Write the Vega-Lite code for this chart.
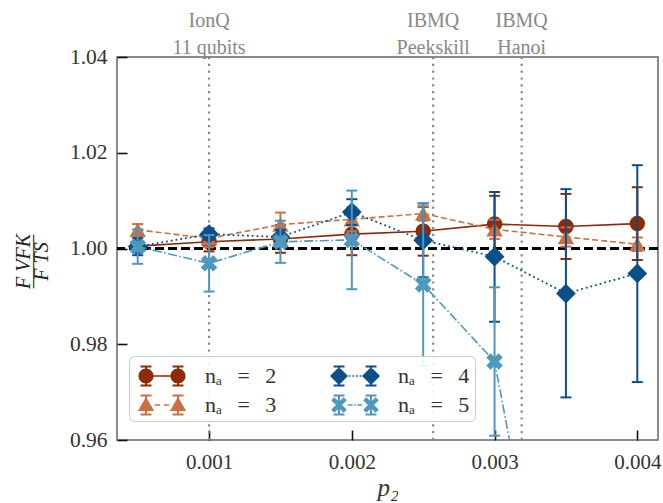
{
  "$schema": "https://vega.github.io/schema/vega-lite/v6.json",
  "width": 541,
  "height": 383,
  "autosize": "none",
  "padding": {"left": 117, "top": 57, "right": 5, "bottom": 63},
  "background": "white",
  "config": {
    "font": "Liberation Serif, DejaVu Serif, serif",
    "view": {"stroke": "#666666", "strokeWidth": 1.5}
  },
  "data": {
    "values": [
      {"p2": 0.0005, "na": "2", "v": 1.0005, "lo": 0.9997, "hi": 1.0013},
      {"p2": 0.001, "na": "2", "v": 1.0014, "lo": 0.9994, "hi": 1.0034},
      {"p2": 0.0015, "na": "2", "v": 1.002, "lo": 0.9991, "hi": 1.0049},
      {"p2": 0.002, "na": "2", "v": 1.003, "lo": 0.9986, "hi": 1.0074},
      {"p2": 0.0025, "na": "2", "v": 1.0036, "lo": 0.9985, "hi": 1.0087},
      {"p2": 0.003, "na": "2", "v": 1.0051, "lo": 0.9992, "hi": 1.011},
      {"p2": 0.0035, "na": "2", "v": 1.0046, "lo": 0.9978, "hi": 1.0114},
      {"p2": 0.004, "na": "2", "v": 1.0052, "lo": 0.9976, "hi": 1.0128},

      {"p2": 0.0005, "na": "3", "v": 1.0039, "lo": 1.0027, "hi": 1.0051},
      {"p2": 0.001, "na": "3", "v": 1.0021, "lo": 1.0003, "hi": 1.0039},
      {"p2": 0.0015, "na": "3", "v": 1.005, "lo": 1.0025, "hi": 1.0075},
      {"p2": 0.002, "na": "3", "v": 1.0061, "lo": 1.0036, "hi": 1.0086},
      {"p2": 0.0025, "na": "3", "v": 1.0073, "lo": 1.0058, "hi": 1.0088},
      {"p2": 0.003, "na": "3", "v": 1.004, "lo": 1.002, "hi": 1.006},
      {"p2": 0.0035, "na": "3", "v": 1.0024, "lo": 1.0004, "hi": 1.0044},
      {"p2": 0.004, "na": "3", "v": 1.0009, "lo": 0.9995, "hi": 1.0023},

      {"p2": 0.0005, "na": "4", "v": 1.0004, "lo": 0.9986, "hi": 1.0022},
      {"p2": 0.001, "na": "4", "v": 1.003, "lo": 1.0018, "hi": 1.0042},
      {"p2": 0.0015, "na": "4", "v": 1.0024, "lo": 1.0009, "hi": 1.0039},
      {"p2": 0.002, "na": "4", "v": 1.0076, "lo": 1.0049, "hi": 1.0103},
      {"p2": 0.0025, "na": "4", "v": 1.0017, "lo": 0.994, "hi": 1.0094},
      {"p2": 0.003, "na": "4", "v": 0.9983, "lo": 0.9847, "hi": 1.0118},
      {"p2": 0.0035, "na": "4", "v": 0.9906, "lo": 0.9689, "hi": 1.0124},
      {"p2": 0.004, "na": "4", "v": 0.9948, "lo": 0.9721, "hi": 1.0174},

      {"p2": 0.0005, "na": "5", "v": 1.0004, "lo": 0.9968, "hi": 1.004},
      {"p2": 0.001, "na": "5", "v": 0.9969, "lo": 0.991, "hi": 1.0028},
      {"p2": 0.0015, "na": "5", "v": 1.0014, "lo": 0.997, "hi": 1.0058},
      {"p2": 0.002, "na": "5", "v": 1.0018, "lo": 0.9915, "hi": 1.0121},
      {"p2": 0.0025, "na": "5", "v": 0.9925, "lo": 0.9755, "hi": 1.0095},
      {"p2": 0.003, "na": "5", "v": 0.9764, "lo": 0.9609, "hi": 0.9919},
      {"p2": 0.0035, "na": "5", "v": 0.898, "lo": 0.898, "hi": 0.898}
    ]
  },
  "layer": [
    {
      "data": {"values": [
        {"p2": 0.001, "device": "IonQ\n11 qubits", "ty": 1.0462},
        {"p2": 0.00257, "device": "IBMQ\nPeekskill", "ty": 1.0462},
        {"p2": 0.00319, "device": "IBMQ\nHanoi", "ty": 1.0462}
      ]},
      "layer": [
        {
          "mark": {"type": "rule", "color": "#888888", "strokeWidth": 2.2, "strokeDash": [2.2, 4.6]},
          "encoding": {
            "x": {
              "field": "p2", "type": "quantitative",
              "scale": {"domain": [0.000355, 0.004145], "nice": false, "zero": false},
              "axis": {
                "values": [0.001, 0.002, 0.003, 0.004], "format": ".3f",
                "title": "p₂", "titleFont": "Liberation Serif, DejaVu Serif, serif", "titleFontSize": 25,
                "titleFontStyle": "italic", "titleFontWeight": "normal", "titleColor": "#333333",
                "titlePadding": 3,
                "labelFont": "Liberation Serif, DejaVu Serif, serif", "labelFontSize": 21, "labelColor": "#333333",
                "labelPadding": 21, "tickSize": -10, "tickColor": "#111111", "tickWidth": 1.6,
                "domain": false, "grid": false
              }
            }
          }
        },
        {
          "mark": {"type": "text", "color": "#888888", "fontSize": 20, "font": "Liberation Serif, DejaVu Serif, serif", "align": "center", "baseline": "alphabetic", "lineBreak": "\n", "lineHeight": 27},
          "encoding": {
            "x": {"field": "p2", "type": "quantitative"},
            "y": {"field": "ty", "type": "quantitative", "scale": {"domain": [0.96, 1.04], "nice": false, "zero": false}},
            "text": {"field": "device"}
          }
        }
      ]
    },
    {
      "data": {"values": [{"ref": 1.0}]},
      "mark": {"type": "rule", "color": "#000000", "strokeWidth": 2.8, "strokeDash": [9, 4]},
      "encoding": {
        "y": {
          "field": "ref", "type": "quantitative",
          "scale": {"domain": [0.96, 1.04], "nice": false, "zero": false},
          "axis": {
            "values": [0.96, 0.98, 1.0, 1.02, 1.04], "format": ".2f",
            "title": ["F VFK", "———", "F TS"],
            "titleFont": "Liberation Serif, DejaVu Serif, serif", "titleFontSize": 20, "titleFontStyle": "italic",
            "titleFontWeight": "normal", "titleColor": "#222222", "titleLineHeight": 9,
            "titleAngle": -90, "titleX": -94, "titleY": 204, "titleAlign": "center", "titleBaseline": "middle",
            "labelFont": "Liberation Serif, DejaVu Serif, serif", "labelFontSize": 21.5, "labelColor": "#333333",
            "labelPadding": 20, "tickSize": -10, "tickColor": "#111111", "tickWidth": 1.6,
            "domain": false, "grid": false
          }
        }
      }
    },
    {
      "transform": [{"filter": "datum.na === '2'"}],
      "layer": [
        {"mark": {"type": "rule", "color": "#8e2a08", "strokeWidth": 2, "clip": true},
         "encoding": {"x": {"field": "p2", "type": "quantitative"}, "y": {"field": "lo", "type": "quantitative"}, "y2": {"field": "hi"}}},
        {"mark": {"type": "tick", "orient": "horizontal", "color": "#8e2a08", "size": 11, "thickness": 2, "opacity": 1, "clip": true},
         "encoding": {"x": {"field": "p2", "type": "quantitative"}, "y": {"field": "lo", "type": "quantitative"}}},
        {"mark": {"type": "tick", "orient": "horizontal", "color": "#8e2a08", "size": 11, "thickness": 2, "opacity": 1, "clip": true},
         "encoding": {"x": {"field": "p2", "type": "quantitative"}, "y": {"field": "hi", "type": "quantitative"}}},
        {"mark": {"type": "line", "color": "#8e2a08", "strokeWidth": 1.6, "clip": true},
         "encoding": {"x": {"field": "p2", "type": "quantitative"}, "y": {"field": "v", "type": "quantitative"}}},
        {"mark": {"type": "point", "filled": true, "opacity": 1, "shape": "circle", "size": 240, "color": "#8e2a08", "clip": true},
         "encoding": {"x": {"field": "p2", "type": "quantitative"}, "y": {"field": "v", "type": "quantitative"}}}
      ]
    },
    {
      "transform": [{"filter": "datum.na === '3'"}],
      "layer": [
        {"mark": {"type": "rule", "color": "#cb7040", "strokeWidth": 2, "clip": true},
         "encoding": {"x": {"field": "p2", "type": "quantitative"}, "y": {"field": "lo", "type": "quantitative"}, "y2": {"field": "hi"}}},
        {"mark": {"type": "tick", "orient": "horizontal", "color": "#cb7040", "size": 11, "thickness": 2, "opacity": 1, "clip": true},
         "encoding": {"x": {"field": "p2", "type": "quantitative"}, "y": {"field": "lo", "type": "quantitative"}}},
        {"mark": {"type": "tick", "orient": "horizontal", "color": "#cb7040", "size": 11, "thickness": 2, "opacity": 1, "clip": true},
         "encoding": {"x": {"field": "p2", "type": "quantitative"}, "y": {"field": "hi", "type": "quantitative"}}},
        {"mark": {"type": "line", "color": "#cb7040", "strokeWidth": 1.6, "strokeDash": [6, 3], "clip": true},
         "encoding": {"x": {"field": "p2", "type": "quantitative"}, "y": {"field": "v", "type": "quantitative"}}},
        {"mark": {"type": "point", "filled": true, "opacity": 1, "shape": "triangle-up", "size": 270, "color": "#cb7040", "clip": true},
         "encoding": {"x": {"field": "p2", "type": "quantitative"}, "y": {"field": "v", "type": "quantitative"}}}
      ]
    },
    {
      "transform": [{"filter": "datum.na === '4'"}],
      "layer": [
        {"mark": {"type": "rule", "color": "#0b4f8a", "strokeWidth": 2, "clip": true},
         "encoding": {"x": {"field": "p2", "type": "quantitative"}, "y": {"field": "lo", "type": "quantitative"}, "y2": {"field": "hi"}}},
        {"mark": {"type": "tick", "orient": "horizontal", "color": "#0b4f8a", "size": 11, "thickness": 2, "opacity": 1, "clip": true},
         "encoding": {"x": {"field": "p2", "type": "quantitative"}, "y": {"field": "lo", "type": "quantitative"}}},
        {"mark": {"type": "tick", "orient": "horizontal", "color": "#0b4f8a", "size": 11, "thickness": 2, "opacity": 1, "clip": true},
         "encoding": {"x": {"field": "p2", "type": "quantitative"}, "y": {"field": "hi", "type": "quantitative"}}},
        {"mark": {"type": "line", "color": "#0b4f8a", "strokeWidth": 1.8, "strokeDash": [1.8, 3], "clip": true},
         "encoding": {"x": {"field": "p2", "type": "quantitative"}, "y": {"field": "v", "type": "quantitative"}}},
        {"mark": {"type": "point", "filled": true, "opacity": 1, "shape": "diamond", "size": 390, "color": "#0b4f8a", "clip": true},
         "encoding": {"x": {"field": "p2", "type": "quantitative"}, "y": {"field": "v", "type": "quantitative"}}}
      ]
    },
    {
      "transform": [{"filter": "datum.na === '5'"}],
      "layer": [
        {"mark": {"type": "rule", "color": "#4e97bd", "strokeWidth": 2, "clip": true},
         "encoding": {"x": {"field": "p2", "type": "quantitative"}, "y": {"field": "lo", "type": "quantitative"}, "y2": {"field": "hi"}}},
        {"mark": {"type": "tick", "orient": "horizontal", "color": "#4e97bd", "size": 11, "thickness": 2, "opacity": 1, "clip": true},
         "encoding": {"x": {"field": "p2", "type": "quantitative"}, "y": {"field": "lo", "type": "quantitative"}}},
        {"mark": {"type": "tick", "orient": "horizontal", "color": "#4e97bd", "size": 11, "thickness": 2, "opacity": 1, "clip": true},
         "encoding": {"x": {"field": "p2", "type": "quantitative"}, "y": {"field": "hi", "type": "quantitative"}}},
        {"mark": {"type": "line", "color": "#4e97bd", "strokeWidth": 1.6, "strokeDash": [9, 2.5, 1.6, 2.5], "clip": true},
         "encoding": {"x": {"field": "p2", "type": "quantitative"}, "y": {"field": "v", "type": "quantitative"}}},
        {"mark": {"type": "point", "filled": true, "opacity": 1, "shape": "M-0.46,-0.94L0.94,0.46L0.46,0.94L-0.94,-0.46Z M-0.94,0.46L0.46,-0.94L0.94,-0.46L-0.46,0.94Z", "size": 310, "color": "#4e97bd", "clip": true},
         "encoding": {"x": {"field": "p2", "type": "quantitative"}, "y": {"field": "v", "type": "quantitative"}}}
      ]
    },
    {
      "mark": {"type": "point", "filled": true, "opacity": 0, "clip": true},
      "encoding": {
        "x": {"field": "p2", "type": "quantitative"},
        "y": {"field": "v", "type": "quantitative"},
        "color": {
          "field": "na", "type": "nominal",
          "scale": {"domain": ["2", "4", "3", "5"], "range": ["#8e2a08", "#0b4f8a", "#cb7040", "#4e97bd"]},
          "legend": {
            "orient": "none", "legendX": 12, "legendY": 299,
            "direction": "horizontal", "columns": 2, "title": null,
            "padding": 5, "rowPadding": 3, "columnPadding": 50,
            "symbolSize": 900, "symbolOffset": 13, "labelOffset": 28,
            "labelFont": "Liberation Serif, DejaVu Serif, serif", "labelFontSize": 22, "labelColor": "#333333",
            "labelExpr": "'nₐ\u2002\u2009=\u2002\u2009' + datum.label",
            "fillColor": "rgba(255,255,255,0.9)", "strokeColor": "#cccccc", "cornerRadius": 5,
            "encode": {
              "symbols": {
                "update": {
                  "shape": {"signal": "datum.value === '2' ? 'M-1.134,-0.633H-1V0.633H-1.134Z M-1.434,-0.7H-0.7V-0.566H-1.434Z M-1.434,0.566H-0.7V0.7H-1.434Z M1,-0.633H1.134V0.633H1Z M0.7,-0.7H1.434V-0.566H0.7Z M0.7,0.566H1.434V0.7H0.7Z M-1.067,-0.053H1.067V0.053H-1.067Z M-0.567,0A0.5,0.5,0,1,1,-1.567,0A0.5,0.5,0,1,1,-0.567,0Z M1.567,0A0.5,0.5,0,1,1,0.567,0A0.5,0.5,0,1,1,1.567,0Z' : datum.value === '3' ? 'M-1.134,-0.633H-1V0.633H-1.134Z M-1.434,-0.7H-0.7V-0.566H-1.434Z M-1.434,0.566H-0.7V0.7H-1.434Z M1,-0.633H1.134V0.633H1Z M0.7,-0.7H1.434V-0.566H0.7Z M0.7,0.566H1.434V0.7H0.7Z M-0.48,-0.053H-0.12V0.053H-0.48Z M0.12,-0.053H0.48V0.053H0.12Z M-1.067,-0.552L-0.527,0.408L-1.607,0.408Z M1.067,-0.552L1.607,0.408L0.527,0.408Z' : datum.value === '4' ? 'M-1.134,-0.633H-1V0.633H-1.134Z M-1.434,-0.7H-0.7V-0.566H-1.434Z M-1.434,0.566H-0.7V0.7H-1.434Z M1,-0.633H1.134V0.633H1Z M0.7,-0.7H1.434V-0.566H0.7Z M0.7,0.566H1.434V0.7H0.7Z M-0.415,-0.055H-0.305V0.055H-0.415Z M-0.175,-0.055H-0.065V0.055H-0.175Z M0.065,-0.055H0.175V0.055H0.065Z M0.305,-0.055H0.415V0.055H0.305Z M-1.067,-0.6L-0.467,0L-1.067,0.6L-1.667,0Z M1.067,-0.6L1.667,0L1.067,0.6L0.467,0Z' : 'M-1.134,-0.633H-1V0.633H-1.134Z M-1.434,-0.7H-0.7V-0.566H-1.434Z M-1.434,0.566H-0.7V0.7H-1.434Z M1,-0.633H1.134V0.633H1Z M0.7,-0.7H1.434V-0.566H0.7Z M0.7,0.566H1.434V0.7H0.7Z M-0.48,-0.053H-0.16V0.053H-0.48Z M-0.05,-0.053H0.05V0.053H-0.05Z M0.16,-0.053H0.48V0.053H0.16Z M-1.377,-0.52L-0.547,0.31L-0.757,0.52L-1.587,-0.31Z M-1.587,0.31L-0.757,-0.52L-0.547,-0.31L-1.377,0.52Z M0.757,-0.52L1.587,0.31L1.377,0.52L0.547,-0.31Z M0.547,0.31L1.377,-0.52L1.587,-0.31L0.757,0.52Z'"},
                  "fill": {"scale": "color", "field": "value"},
                  "stroke": {"value": "transparent"},
                  "strokeWidth": {"value": 0},
                  "opacity": {"value": 1},
                  "fillOpacity": {"value": 1},
                  "size": {"value": 900}
                }
              }
            }
          }
        }
      }
    }
  ]
}
